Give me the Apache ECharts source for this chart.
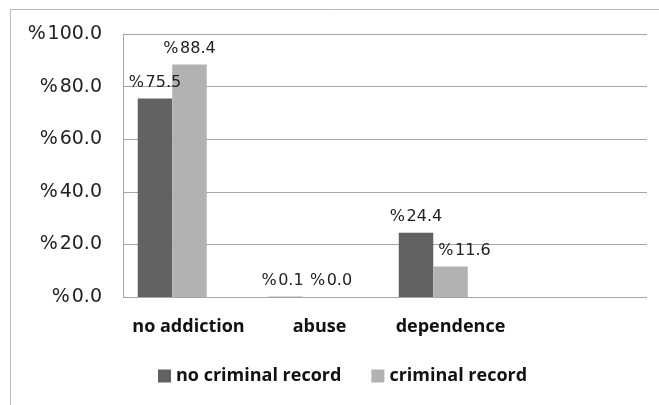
<!DOCTYPE html>
<html>
<head>
<meta charset="utf-8">
<script src="https://cdn.jsdelivr.net/npm/echarts@6/dist/echarts.min.js"></script>
<style>
html,body{margin:0;padding:0;background:#fff;}
#chart{width:659px;height:405px;}
</style>
</head>
<body>
<div id="chart"></div>
<script>
var categories = ['no addiction', 'abuse', 'dependence', ''];
var seriesNames = ['no criminal record', 'criminal record'];
var noCriminalRecord = [75.5, 0.1, 24.4];
var criminalRecord = [88.4, 0.0, 11.6];
var yTicks = [0, 20, 40, 60, 80, 100];

var chart = echarts.init(document.getElementById('chart'));
var pct = function (v) { return '%\u200A' + Number(v).toFixed(1); };
var labelStyle = {
  show: true, position: 'top', distance: 8,
  fontFamily: 'DejaVu Sans', fontSize: 16, color: '#222',
  formatter: function (p) { return pct(p.value); }
};
// small horizontal label nudges so neighbouring labels do not collide (as in the original)
var darkNudge = [0, -3, 0];
var lightNudge = [0, 11, 14];
chart.setOption({
  animation: false,
  backgroundColor: '#fff',
  graphic: [
    { type: 'line', shape: { x1: 10, y1: 9.5, x2: 659, y2: 9.5 }, style: { stroke: '#bdbdbd', lineWidth: 1 } },
    { type: 'line', shape: { x1: 10.5, y1: 9, x2: 10.5, y2: 405 }, style: { stroke: '#bdbdbd', lineWidth: 1 } }
  ],
  grid: [
    { left: 107, right: 30, top: 34, bottom: 108 },
    { left: 123, right: 12, top: 34, bottom: 108 }
  ],
  legend: {
    data: seriesNames,
    left: 153, top: 362,
    icon: 'rect', itemWidth: 13, itemHeight: 13, itemGap: 30,
    textStyle: { fontFamily: 'Open Sans', fontWeight: 'bold', fontSize: 18, color: '#111' }
  },
  xAxis: [
    { type: 'category', gridIndex: 0, data: categories, show: false },
    { type: 'category', gridIndex: 1, data: categories,
      axisLine: { show: false }, axisTick: { show: false },
      axisLabel: { interval: 0, margin: 21, fontFamily: 'Open Sans', fontWeight: 'bold', fontSize: 18, color: '#111' } }
  ],
  yAxis: [
    { type: 'value', gridIndex: 0, min: 0, max: 100, interval: 20, show: false },
    { type: 'value', gridIndex: 1, min: 0, max: 100, interval: 20,
      axisLine: { show: true, lineStyle: { color: '#a6a6a6', width: 1 } },
      axisTick: { show: false },
      splitLine: { show: true, lineStyle: { color: '#a6a6a6', width: 1 } },
      axisLabel: { margin: 21, fontFamily: 'DejaVu Sans', fontSize: 19, color: '#222',
        formatter: function (v) { return pct(v); } } }
  ],
  series: [
    { name: seriesNames[0], type: 'bar', xAxisIndex: 0, yAxisIndex: 0,
      data: noCriminalRecord, barWidth: 34.5, barGap: '0%',
      itemStyle: { color: '#626262' }, label: labelStyle,
      labelLayout: function (p) { return { dx: darkNudge[p.dataIndex] || 0, hideOverlap: false }; } },
    { name: seriesNames[1], type: 'bar', xAxisIndex: 0, yAxisIndex: 0,
      data: criminalRecord, barWidth: 34.5, barGap: '0%',
      itemStyle: { color: '#b2b2b2' }, label: labelStyle,
      labelLayout: function (p) { return { dx: lightNudge[p.dataIndex] || 0, hideOverlap: false }; } }
  ]
});
</script>
</body>
</html>
